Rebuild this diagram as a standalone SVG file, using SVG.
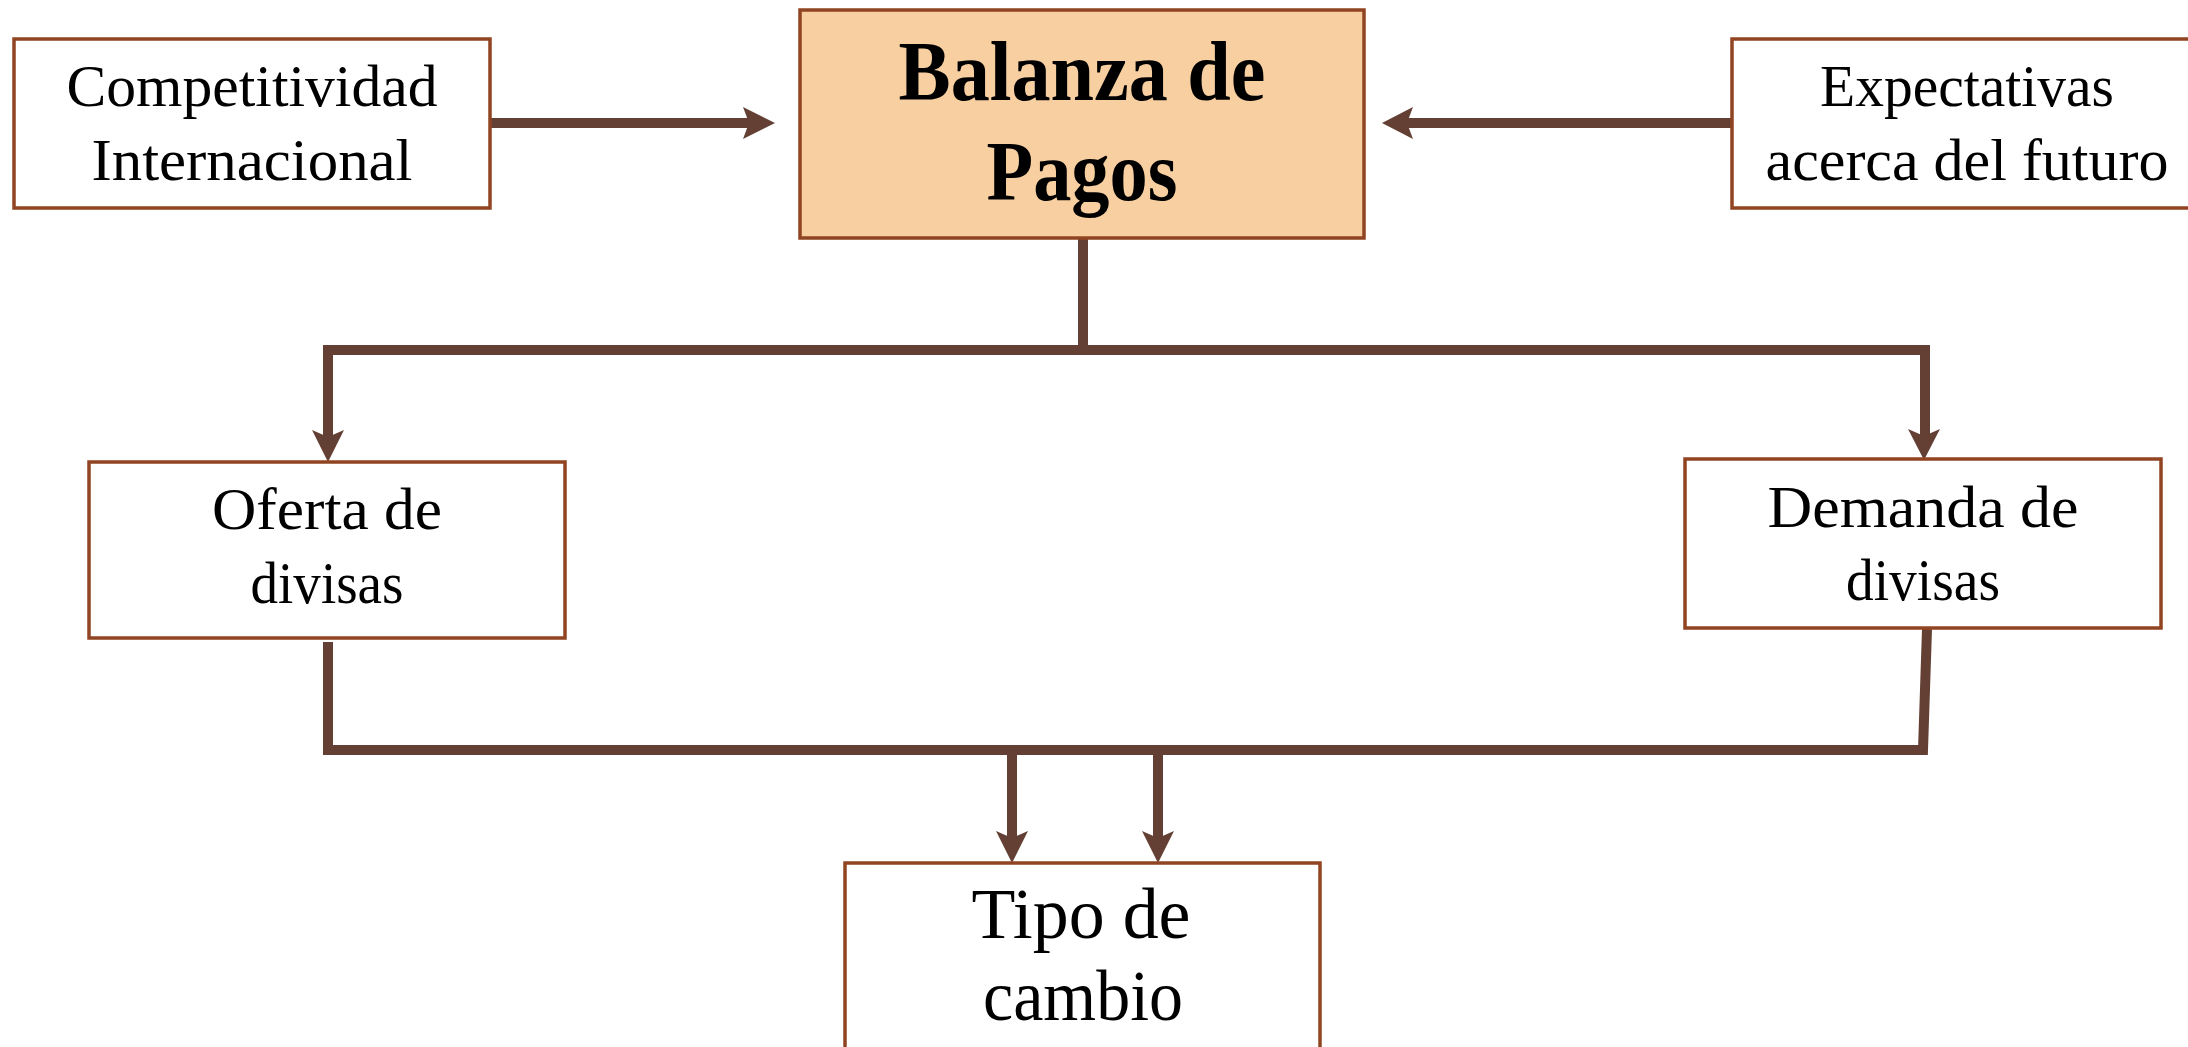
<svg xmlns="http://www.w3.org/2000/svg" width="2188" height="1047" viewBox="0 0 2188 1047">
  <style>
    .box { fill: #FFFFFF; stroke: #914422; stroke-width: 3.5; }
    .main { fill: #F7CFA0; stroke: #914422; stroke-width: 3.5; }
    .t { font-family: "Liberation Serif", "Times New Roman", serif; font-size: 60px; fill: #000000; text-anchor: middle; }
    .tb { font-family: "Liberation Serif", "Times New Roman", serif; font-size: 84px; font-weight: bold; fill: #000000; text-anchor: middle; }
    .tl { font-family: "Liberation Serif", "Times New Roman", serif; font-size: 71px; fill: #000000; text-anchor: middle; }
    .c { fill: none; stroke: #634033; stroke-width: 10; stroke-linejoin: miter; stroke-linecap: butt; }
    .h { fill: #634033; stroke: none; }
  </style>

  <g id="connectors">
    <path class="c" d="M490,123 L752,123"/>
    <polygon class="h" points="775,123 743,107 749,123 743,139"/>
    <path class="c" d="M1732,123 L1404,123"/>
    <polygon class="h" points="1382,123 1413,107 1407,123 1413,139"/>
    <path class="c" d="M1083,238 L1083,350"/>
    <path class="c" d="M328,440 L328,350 L1925,350 L1925,440"/>
    <polygon class="h" points="328,462 312,430 328,437 344,430"/>
    <polygon class="h" points="1924,460 1908,429 1924,436 1940,429"/>
    <path class="c" d="M328,642 L328,750 L1923,750 L1927,629"/>
    <path class="c" d="M1012,750 L1012,840"/>
    <polygon class="h" points="1012,863 996,831 1012,838 1028,831"/>
    <path class="c" d="M1158,750 L1158,840"/>
    <polygon class="h" points="1158,863 1142,831 1158,838 1174,831"/>
  </g>

  <g id="competitividad">
    <rect class="box" x="14" y="39" width="476" height="169"/>
    <text class="t" x="252" y="106" textLength="371" lengthAdjust="spacingAndGlyphs">Competitividad</text>
    <text class="t" x="252" y="180" textLength="321" lengthAdjust="spacingAndGlyphs">Internacional</text>
  </g>

  <g id="balanza">
    <rect class="main" x="800" y="10" width="564" height="228"/>
    <text class="tb" x="1082" y="100" textLength="367" lengthAdjust="spacingAndGlyphs">Balanza de</text>
    <text class="tb" x="1082" y="200" textLength="191" lengthAdjust="spacingAndGlyphs">Pagos</text>
  </g>

  <g id="expectativas">
    <rect class="box" x="1732" y="39" width="470" height="169"/>
    <text class="t" x="1967" y="106" textLength="294" lengthAdjust="spacingAndGlyphs">Expectativas</text>
    <text class="t" x="1967" y="180" textLength="403" lengthAdjust="spacingAndGlyphs">acerca del futuro</text>
  </g>

  <g id="oferta">
    <rect class="box" x="89" y="462" width="476" height="176"/>
    <text class="t" x="327" y="529" textLength="230" lengthAdjust="spacingAndGlyphs">Oferta de</text>
    <text class="t" x="327" y="603" textLength="153" lengthAdjust="spacingAndGlyphs">divisas</text>
  </g>

  <g id="demanda">
    <rect class="box" x="1685" y="459" width="476" height="169"/>
    <text class="t" x="1923" y="527" textLength="311" lengthAdjust="spacingAndGlyphs">Demanda de</text>
    <text class="t" x="1923" y="600" textLength="154" lengthAdjust="spacingAndGlyphs">divisas</text>
  </g>

  <g id="tipo">
    <rect class="box" x="845" y="863" width="475" height="200"/>
    <text class="tl" x="1081" y="938" textLength="219" lengthAdjust="spacingAndGlyphs">Tipo de</text>
    <text class="tl" x="1083" y="1020" textLength="200" lengthAdjust="spacingAndGlyphs">cambio</text>
  </g>
</svg>
